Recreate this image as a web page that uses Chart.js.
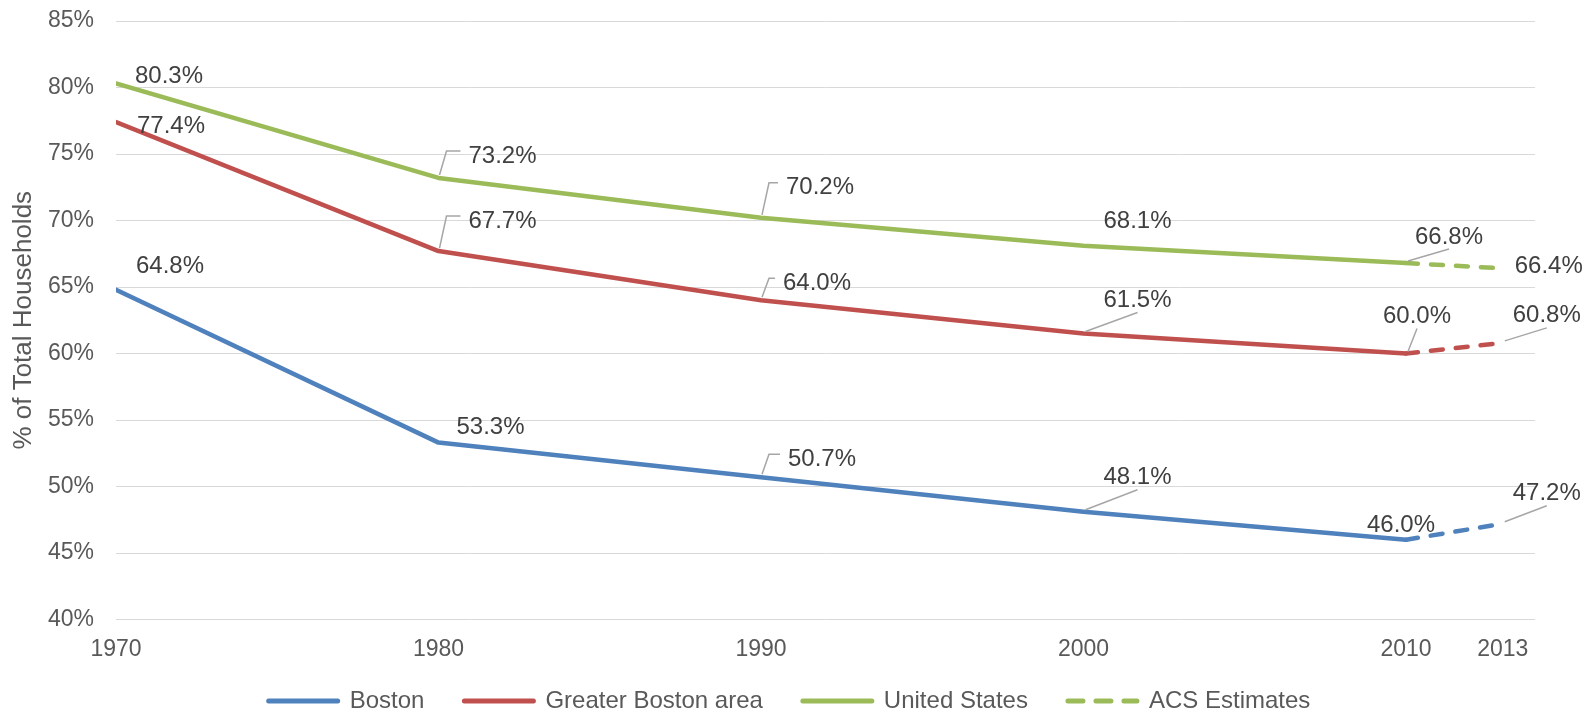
<!DOCTYPE html>
<html>
<head>
<meta charset="utf-8">
<script src="https://cdn.jsdelivr.net/npm/chart.js@4.4.1/dist/chart.umd.min.js"></script>
<style>
  html, body { margin: 0; padding: 0; background: #fff; }
  #wrap { width: 1595px; height: 711px; position: relative; }
</style>
</head>
<body>
<div id="wrap"><canvas id="chart"></canvas></div>
<script>
'use strict';

/* ── data ── */
const YEARS = [1970, 1980, 1990, 2000, 2010];
const ACS_YEARS = [2010, 2013];
const X_TICKS = [1970, 1980, 1990, 2000, 2010, 2013];
const BOSTON = [64.8, 53.3, 50.7, 48.1, 46.0];
const GREATER_BOSTON = [77.4, 67.7, 64.0, 61.5, 60.0];
const UNITED_STATES = [80.3, 73.2, 70.2, 68.1, 66.8];
const BOSTON_ACS = [46.0, 47.2];
const GREATER_BOSTON_ACS = [60.0, 60.8];
const UNITED_STATES_ACS = [66.8, 66.4];
const LEGEND_NAMES = ['Boston', 'Greater Boston area', 'United States', 'ACS Estimates'];

/* ── style ── */
const C_BOS = '#4F81BD', C_GB = '#C0504D', C_US = '#9BBB59';
const FONT = '"Liberation Sans", Arial, sans-serif';
const DASH = [12, 13];
// label offset from its point [dx, dy, leader: 0 none / 1 elbow / 2 straight]
const LABEL_POS = {
  0: [[54,-26,0],[52,-18,0],[61,-21,1],[54,-37,2],[-5,-17,0]],
  1: [[55,1,0],[64,-33,1],[56,-20,1],[54,-36,2],[11,-40,2]],
  2: [[53,-10,0],[64,-25,1],[59,-33,1],[54,-27,0],[43,-29,2]],
  3: [null,[44,-33,2]],
  4: [null,[44,-30,2]],
  5: [null,[46,-5,0]]
};

const pts = (xs, ys) => xs.map((x, i) => ({x, y: ys[i]}));
const solid = (label, xs, ys, color) => ({
  label, data: pts(xs, ys), borderColor: color, backgroundColor: color,
  borderWidth: 4.5, borderCapStyle: 'round', borderJoinStyle: 'round',
  pointRadius: 0, tension: 0, fill: false
});
const dashed = (xs, ys, color) => Object.assign(solid('ACS Estimates', xs, ys, color), {borderDash: DASH});

/* ── data labels with leader lines ── */
const dataLabels = {
  id: 'dataLabels',
  afterDatasetsDraw(chart) {
    const ctx = chart.ctx;
    ctx.save();
    ctx.font = '24px ' + FONT;
    ctx.textAlign = 'center';
    ctx.textBaseline = 'middle';
    chart.data.datasets.forEach((ds, di) => {
      const place = LABEL_POS[di];
      if (!place) return;
      chart.getDatasetMeta(di).data.forEach((pt, i) => {
        const p = place[i];
        if (!p) return;
        const [dx, dy, kind] = p;
        const tx = pt.x + dx, ty = pt.y + dy;
        const txt = ds.data[i].y.toFixed(1) + '%';
        const w = ctx.measureText(txt).width;
        if (kind) {
          ctx.beginPath();
          ctx.strokeStyle = '#A6A6A6';
          ctx.lineWidth = 1.5;
          if (kind === 1) {
            ctx.moveTo(pt.x + 1, pt.y - 3);
            ctx.lineTo(pt.x + 8, ty - 2);
            ctx.lineTo(tx - w / 2 - 8, ty - 2);
          } else {
            ctx.moveTo(pt.x + 2, pt.y - 2);
            ctx.lineTo(tx, ty + 15);
          }
          ctx.stroke();
        }
        ctx.fillStyle = '#404040';
        ctx.fillText(txt, tx, ty + 3);
      });
    });
    ctx.restore();
  }
};

/* legend sits a bit higher than the layout puts it */
const legendShift = {
  id: 'legendShift',
  afterLayout(chart) {
    chart.legend.top -= 16.5;
    chart.legend.bottom -= 16.5;
  }
};

Chart.defaults.font.family = FONT;

new Chart(document.getElementById('chart'), {
  type: 'line',
  data: {
    datasets: [
      solid('Boston', YEARS, BOSTON, C_BOS),
      solid('Greater Boston area', YEARS, GREATER_BOSTON, C_GB),
      solid('United States', YEARS, UNITED_STATES, C_US),
      dashed(ACS_YEARS, BOSTON_ACS, C_BOS),
      dashed(ACS_YEARS, GREATER_BOSTON_ACS, C_GB),
      dashed(ACS_YEARS, UNITED_STATES_ACS, C_US)
    ]
  },
  options: {
    responsive: true,
    maintainAspectRatio: false,
    animation: false,
    layout: { padding: { top: 21, right: 60, bottom: -28.5, left: 44 } },
    scales: {
      x: {
        type: 'linear', min: 1970, max: 2014,
        afterBuildTicks: s => { s.ticks = X_TICKS.map(v => ({value: v})); },
        afterFit: s => { s.height = 46; },
        grid: { display: false, drawTicks: false },
        border: { display: false },
        ticks: { font: { size: 23 }, color: '#595959', padding: 16, maxRotation: 0, autoSkip: false, callback: v => String(v) }
      },
      y: {
        min: 40, max: 85,
        afterFit: s => { s.width = 72; },
        grid: { color: '#D9D9D9', lineWidth: 1, drawTicks: true, tickLength: 15, tickColor: 'rgba(0,0,0,0)' },
        border: { display: false },
        ticks: { stepSize: 5, font: { size: 23 }, color: '#595959', padding: 7, callback: v => v + '%' },
        title: { display: true, text: '% of Total Households', font: { size: 26 }, color: '#595959', padding: { top: -36, bottom: 0 } }
      }
    },
    plugins: {
      tooltip: { enabled: false },
      legend: {
        position: 'bottom',
        labels: {
          usePointStyle: true,
          pointStyleWidth: 69,
          padding: 40,
          font: { size: 24 },
          color: '#595959',
          generateLabels: () => LEGEND_NAMES.map((name, i) => {
            const col = [C_BOS, C_GB, C_US, C_US][i];
            return {
              text: name, fillStyle: col, strokeStyle: col, fontColor: '#595959',
              lineWidth: 5, lineCap: 'round', lineDash: i === 3 ? [15, 13] : [],
              pointStyle: 'line', hidden: false, datasetIndex: i === 3 ? 5 : i
            };
          })
        }
      }
    }
  },
  plugins: [dataLabels, legendShift]
});
</script>
</body>
</html>
